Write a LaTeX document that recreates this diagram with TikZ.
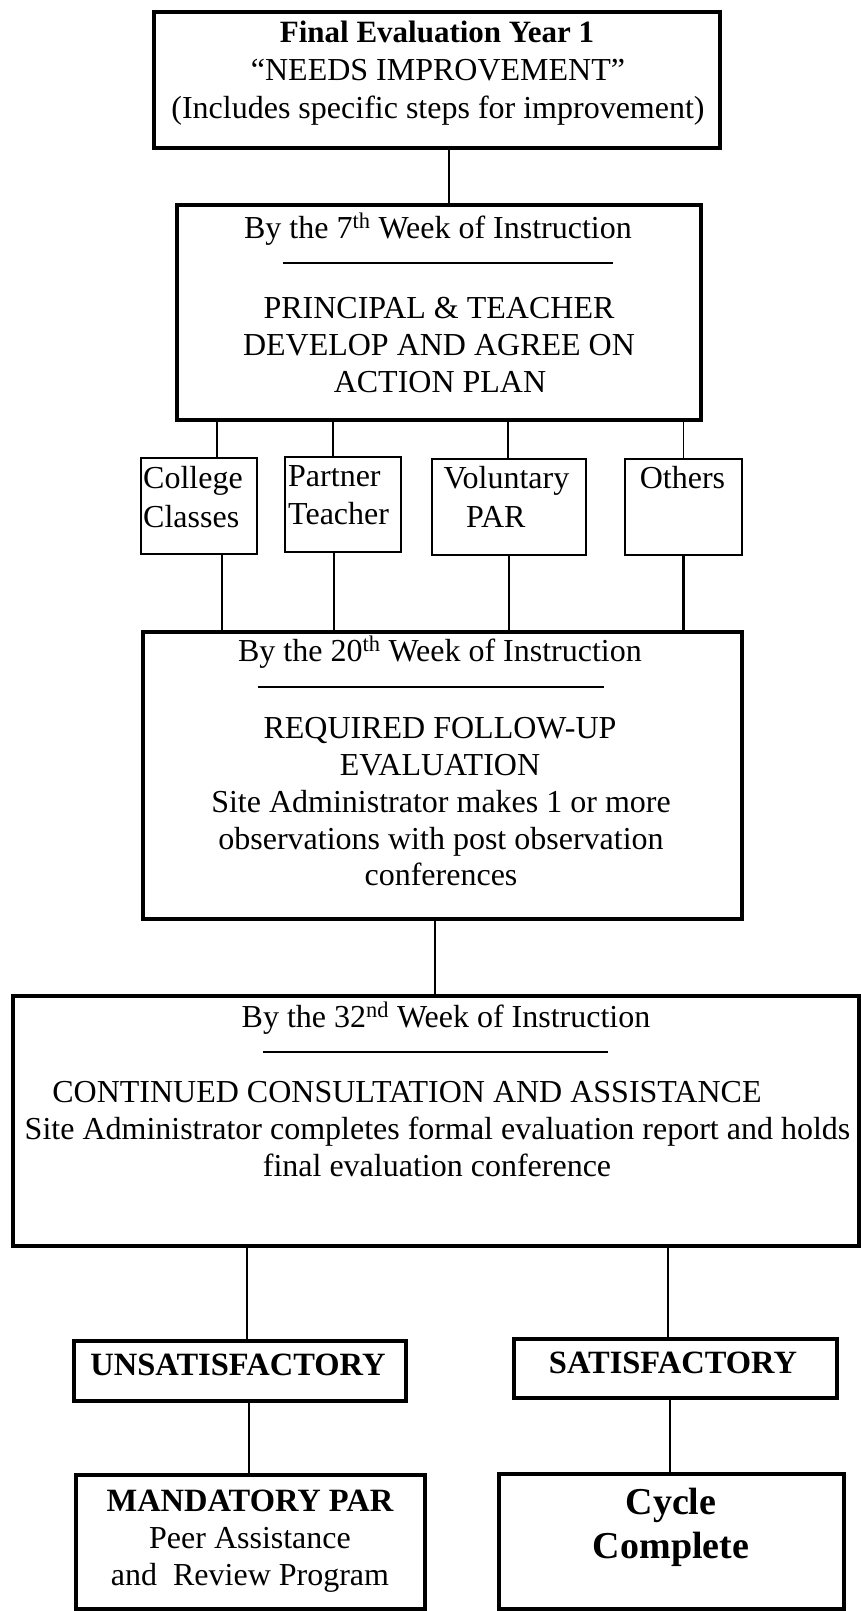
\documentclass[tikz,border=0pt]{standalone}
\usepackage{fontspec}
\setmainfont{Liberation Serif}
\begin{document}
\begin{tikzpicture}[x=1pt,y=-1pt,
  thickbox/.style={draw, line width=4pt, inner sep=0pt},
  thinbox/.style={draw, line width=2pt, inner sep=0pt},
  conn/.style={line width=1.6pt},
  conn2/.style={line width=2.2pt},
  rulel/.style={line width=2.5pt},
  txt/.style={inner sep=0pt, anchor=base, font=\fontsize{32}{37}\selectfont},
  txtw/.style={txt, anchor=base west},
  btxt/.style={inner sep=0pt, anchor=base, font=\fontsize{31}{37}\selectfont\bfseries},
  btxtl/.style={inner sep=0pt, anchor=base, font=\fontsize{32.5}{37}\selectfont\bfseries},
  bigb/.style={inner sep=0pt, anchor=base, font=\fontsize{38}{44}\selectfont\bfseries}]
\useasboundingbox (0,0) rectangle (861,1611);

% boxes
\node[thickbox, minimum width=566pt, minimum height=136pt] (top) at (437,80) {};
\node[thickbox, minimum width=524pt, minimum height=215pt] (b7) at (439,312.5) {};
\node[thinbox, minimum width=116pt, minimum height=96pt] (cc) at (199,506) {};
\node[thinbox, minimum width=116pt, minimum height=95pt] (pt) at (343,504.5) {};
\node[thinbox, minimum width=154pt, minimum height=96pt] (vp) at (509,507) {};
\node[thinbox, minimum width=117pt, minimum height=96pt] (ot) at (683.5,507) {};
\node[thickbox, minimum width=599pt, minimum height=287pt] (b20) at (442.5,775.5) {};
\node[thickbox, minimum width=846pt, minimum height=250pt] (b32) at (436,1121) {};
\node[thickbox, minimum width=332pt, minimum height=60pt] (uns) at (240,1371) {};
\node[thickbox, minimum width=323pt, minimum height=59pt] (sat) at (675.5,1368.5) {};
\node[thickbox, minimum width=349pt, minimum height=134pt] (man) at (250.5,1542) {};
\node[thickbox, minimum width=345pt, minimum height=135pt] (cyc) at (671.5,1541.5) {};

% connectors
\draw[conn] ([xshift=12pt]top.south) -- ([xshift=12pt]top.south |- b7.north);
\draw[conn] ([xshift=18pt]cc.north) -- ([xshift=18pt]cc.north |- b7.south);
\draw[conn] ([xshift=-10pt]pt.north) -- ([xshift=-10pt]pt.north |- b7.south);
\draw[conn] ([xshift=-1pt]vp.north) -- ([xshift=-1pt]vp.north |- b7.south);
\draw[conn] (ot.north) -- (ot.north |- b7.south);
\draw[conn2] ([xshift=23pt]cc.south) -- ([xshift=23pt]cc.south |- b20.north);
\draw[conn2] ([xshift=-9pt]pt.south) -- ([xshift=-9pt]pt.south |- b20.north);
\draw[conn2] (vp.south) -- (vp.south |- b20.north);
\draw[conn2] (ot.south) -- (ot.south |- b20.north);
\draw[conn] ([xshift=-7.5pt]b20.south) -- ([xshift=-7.5pt]b20.south |- b32.north);
\draw[conn] ([xshift=7pt]uns.north) -- ([xshift=7pt]uns.north |- b32.south);
\draw[conn] ([xshift=-7.5pt]sat.north) -- ([xshift=-7.5pt]sat.north |- b32.south);
\draw[conn] ([xshift=-1.5pt]man.north) -- ([xshift=-1.5pt]man.north |- uns.south);
\draw[conn] ([xshift=-1.5pt]cyc.north) -- ([xshift=-1.5pt]cyc.north |- sat.south);

% rules inside boxes
\coordinate (r7a) at (283,263); \coordinate (r7b) at (613,263);
\coordinate (r20a) at (258,687); \coordinate (r20b) at (604,687);
\coordinate (r32a) at (263,1052); \coordinate (r32b) at (608,1052);
\draw[rulel] (r7a) -- (r7b);
\draw[rulel] (r20a) -- (r20b);
\draw[rulel] (r32a) -- (r32b);

% texts
\node[btxt] (t1a) at (437,43) {Final Evaluation Year 1};
\node[txt] (t1b) at (438,81) {“NEEDS IMPROVEMENT”};
\node[txt] (t1c) at (438,118) {(Includes specific steps for improvement)};

\node[txt] (t7a) at (438,238) {By the 7\textsuperscript{th} Week of Instruction};
\node[txt] (t7b) at (439,318) {PRINCIPAL \& TEACHER};
\node[txt] (t7c) at (439,355) {DEVELOP AND AGREE ON};
\node[txt] (t7d) at (440,392) {ACTION PLAN};

\node[txtw] (tcca) at (143,488) {College};
\node[txtw] (tccb) at (143,527) {Classes};
\node[txtw] (tpta) at (288,486) {Partner};
\node[txtw] (tptb) at (288,524) {Teacher};
\node[txt] (tvpa) at (506.5,488) {Voluntary};
\node[txtw] (tvpb) at (466,527) {PAR};
\node[txt] (tota) at (682.5,488) {Others};

\node[txt] (t20a) at (440,661) {By the 20\textsuperscript{th} Week of Instruction};
\node[txt] (t20b) at (440,738) {REQUIRED FOLLOW-UP};
\node[txt] (t20c) at (440,775) {EVALUATION};
\node[txt] (t20d) at (441,812) {Site Administrator makes 1 or more};
\node[txt] (t20e) at (441,849) {observations with post observation};
\node[txt] (t20f) at (441,885) {conferences};

\node[txt] (t32a) at (446,1027) {By the 32\textsuperscript{nd} Week of Instruction};
\node[txt] (t32b) at (407,1102) {CONTINUED CONSULTATION AND ASSISTANCE};
\node[txt] (t32c) at (437.5,1139) {Site Administrator completes formal evaluation report and holds};
\node[txt] (t32d) at (437,1176) {final evaluation conference};

\node[btxtl] (tuns) at (238,1375) {UNSATISFACTORY};
\node[btxtl] (tsat) at (673,1373) {SATISFACTORY};

\node[btxtl] (tmana) at (250,1511) {MANDATORY PAR};
\node[txt] (tmanb) at (250,1548) {Peer Assistance};
\node[txt] (tmanc) at (250,1585) {and\ \ Review Program};
\node[bigb] (tcyca) at (671,1514) {Cycle};
\node[bigb] (tcycb) at (671,1558) {Complete};
\end{tikzpicture}
\end{document}
